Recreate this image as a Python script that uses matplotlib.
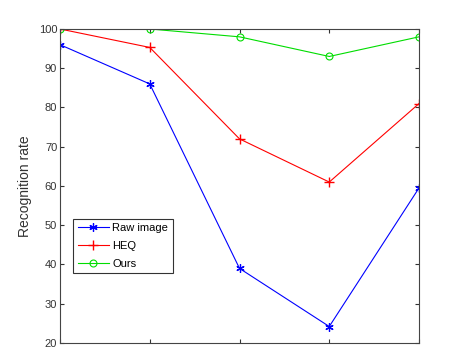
import matplotlib
matplotlib.use("Agg")
import matplotlib.pyplot as plt

plt.rcParams['font.family'] = ['Liberation Sans', 'DejaVu Sans']

x = [1, 2, 3, 4, 5]
raw_image = [96, 86, 39, 24.2, 59.5]
heq = [100, 95.3, 72, 61, 81]
ours = [100, 100, 98, 93, 98]
yticks = [20, 30, 40, 50, 60, 70, 80, 90, 100]

fig = plt.figure(figsize=(4.63, 3.48), dpi=100)
ax = fig.add_axes([0.1296, 0.0144, 0.7754, 0.9023])

# matlab style asterisk marker
ax.plot(x, raw_image, color='#0000ff', marker=(6, 2, 0), ms=6, mew=0.9, lw=0.8,
        label='Raw image')
ax.plot(x, heq, color='#ff0000', marker='+', ms=7, lw=0.8, label='HEQ')
ax.plot(x, ours, color='#00dd00', marker='o', ms=5, mfc='none', mew=0.8, lw=0.8,
        label='Ours')

ax.set_xlim(1, 5)
ax.set_ylim(20, 100)
ax.set_yticks(yticks)
ax.set_xticks(x)
ax.set_xticklabels([])
ax.tick_params(direction='in', top=True, right=True, length=3, labelsize=8,
               colors='#333333', pad=2)
for s in ax.spines.values():
    s.set_color('#444444')
    s.set_linewidth(0.8)
ax.set_ylabel('Recognition rate', fontsize=10, color='#333333', labelpad=5)

leg = ax.legend(loc='lower left', bbox_to_anchor=(0.022, 0.205), fontsize=8,
                frameon=True, fancybox=False, handlelength=2.8, borderpad=0.4,
                labelspacing=0.7, handletextpad=0.3)
leg.get_frame().set_edgecolor('#000000')
leg.get_frame().set_linewidth(0.8)

fig.savefig('out.png', dpi=100)
